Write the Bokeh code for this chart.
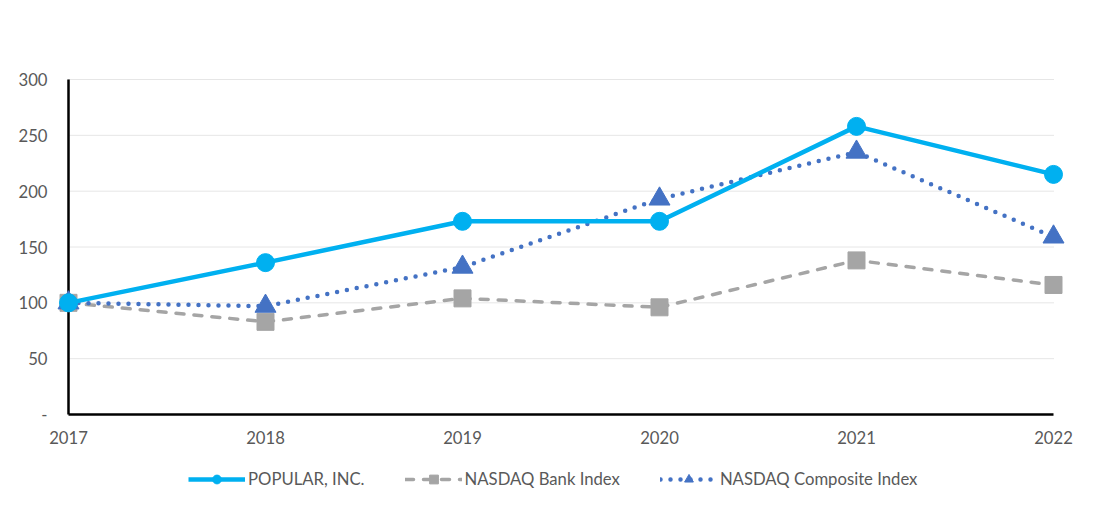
from bokeh.plotting import figure
from bokeh.models import Legend, LegendItem, Range1d
from bokeh.core.properties import value
from bokeh.embed import file_html
from bokeh.resources import INLINE

years = [2017, 2018, 2019, 2020, 2021, 2022]
year_labels = ["2017", "2018", "2019", "2020", "2021", "2022"]
popular = [100, 136, 173, 173, 258, 215]
bank = [100, 83, 104, 96, 138, 116]
composite = [100, 97, 132, 193, 235, 159]
y_ticks = [0, 50, 100, 150, 200, 250, 300]
y_tick_labels = ["-", "50", "100", "150", "200", "250", "300"]

FONT = "Lato"
FS = "16.7px"
TXT = "#595959"
W, H = 1080, 496
# frame placement in pixels (plot area)
PX_L, PX_R, PX_T, PX_B = 68, 1053, 79, 414

x0, x1 = years[0], years[-1]
y0, y1 = y_ticks[0], y_ticks[-1]
kx = (PX_R - PX_L) / (x1 - x0)
ky = (PX_B - PX_T) / (y1 - y0)

p = figure(width=W, height=H, output_backend="svg", toolbar_location=None,
           x_axis_location=None, y_axis_location=None,
           x_range=Range1d(x0 - PX_L / kx, x1 + (W - PX_R) / kx),
           y_range=Range1d(y0 - (H - PX_B) / ky, y1 + PX_T / ky),
           min_border=0)
p.outline_line_color = None
p.background_fill_color = "white"
p.border_fill_color = "white"
p.grid.visible = False

# gridlines
grid_y = y_ticks[1:]
p.segment(x0=[x0] * len(grid_y), x1=[x1] * len(grid_y), y0=grid_y, y1=grid_y,
          line_color="#cccccc", line_width=1, line_dash="1 1")
# axis lines
p.segment(x0=[x0], x1=[x1], y0=[y0], y1=[y0], line_color="black", line_width=2.5)
p.segment(x0=[x0], x1=[x0], y0=[y0], y1=[y1], line_color="black", line_width=2.5)

# tick labels
p.text(x=years, y=[y0] * len(years), text=year_labels, y_offset=23,
       text_align="center", text_baseline="middle",
       text_font=value(FONT), text_font_size=value(FS), text_color=TXT)
p.text(x=[x0] * len(y_ticks), y=y_ticks, text=y_tick_labels, x_offset=-21,
       text_align="right", text_baseline="middle",
       text_font=value(FONT), text_font_size=value(FS), text_color=TXT)

c_pop = "#00B0F0"
c_bank = "#A5A5A5"
c_comp = "#4472C4"

l_bank = p.line(years, bank, line_color=c_bank, line_width=3.5, line_dash="8 10", line_cap="round")
s_bank = p.scatter(years, bank, marker="square", size=17, fill_color=c_bank, line_color=c_bank)
l_comp = p.line(years, composite, line_color=c_comp, line_width=4.5, line_dash="0 10", line_cap="round")
s_comp = p.scatter(years, composite, marker="triangle", size=21, fill_color=c_comp, line_color=c_comp)
l_pop = p.line(years, popular, line_color=c_pop, line_width=4.5)
s_pop = p.scatter(years, popular, marker="circle", size=18, fill_color=c_pop, line_color=c_pop)

legend = Legend(items=[
    LegendItem(label="POPULAR, INC.", renderers=[l_pop, s_pop]),
    LegendItem(label="NASDAQ Bank Index", renderers=[l_bank, s_bank]),
    LegendItem(label="NASDAQ Composite Index", renderers=[l_comp, s_comp]),
], orientation="horizontal", location=(188, 6))
legend.glyph_width = 57
legend.glyph_height = 22
legend.label_standoff = 3
legend.spacing = 40
legend.padding = 4
legend.margin = 0
legend.border_line_color = None
legend.background_fill_alpha = 0
legend.label_text_font = FONT
legend.label_text_font_size = FS
legend.label_text_color = TXT
p.add_layout(legend, "center")

open("out.html", "w").write(file_html(p, INLINE))
